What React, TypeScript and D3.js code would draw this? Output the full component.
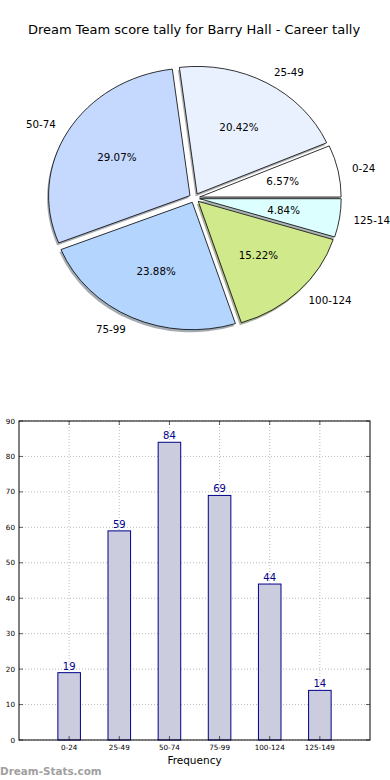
import { useMemo } from "react";
import * as d3 from "d3";

const categories = ["0-24", "25-49", "50-74", "75-99", "100-124", "125-149"];
const counts = [19, 59, 84, 69, 44, 14];
const pieColors = ["#ffffff", "#eaf1fe", "#c5d8fe", "#b4d5fe", "#d0ea8b", "#dcffff"];
const yTicks = [0, 10, 20, 30, 40, 50, 60, 70, 80, 90];

const TITLE = "Dream Team score tally for Barry Hall - Career tally";
const FONT = "DejaVu Sans, sans-serif";

// pie geometry (matplotlib style: starts at 3 o'clock, counterclockwise, slightly squashed)
const PIE = { cx: 194.5, cy: 198, rx: 141.5, ry: 127.5, explode: 0.037 };
// bar chart frame
const BAR = { left: 19, right: 370, top: 421, bottom: 740 };

const Pie = () => {
  const total = d3.sum(counts);
  const arcs = useMemo(
    () =>
      d3
        .pie<number>()
        .sort(null)
        .startAngle(Math.PI / 2)
        .endAngle(Math.PI / 2 - 2 * Math.PI)(counts),
    []
  );
  const arcGen = d3.arc<d3.PieArcDatum<number>>().innerRadius(0).outerRadius(1);

  const slices = arcs.map((a, i) => {
    const mid = (a.startAngle + a.endAngle) / 2;
    const ux = Math.sin(mid);
    const uy = -Math.cos(mid);
    const ox = PIE.cx + PIE.explode * PIE.rx * ux;
    const oy = PIE.cy + PIE.explode * PIE.ry * uy;
    return { a, i, ux, uy, ox, oy };
  });

  return (
    <g>
      {/* shadows */}
      {slices.map(({ a, i, ox, oy }) => (
        <path
          key={"s" + i}
          d={arcGen(a) ?? ""}
          transform={`translate(${ox - 1.5},${oy + 2.5}) scale(${PIE.rx},${PIE.ry})`}
          fill={d3.color(pieColors[i])!.darker(2.5).formatHex()}
          opacity={0.5}
        />
      ))}
      {slices.map(({ a, i, ox, oy }) => (
        <path
          key={"p" + i}
          d={arcGen(a) ?? ""}
          transform={`translate(${ox},${oy}) scale(${PIE.rx},${PIE.ry})`}
          fill={pieColors[i]}
          stroke="#000"
          strokeWidth={0.8}
          vectorEffect="non-scaling-stroke"
        />
      ))}
      {slices.map(({ i, ux, uy, ox, oy }) => (
        <g key={"t" + i} fontFamily={FONT} fontSize={10.3} fill="#000">
          <text
            x={ox + 0.6 * PIE.rx * ux}
            y={oy + 0.6 * PIE.ry * uy}
            textAnchor="middle"
            dominantBaseline="central"
          >
            {((counts[i] / total) * 100).toFixed(2) + "%"}
          </text>
          <text
            x={ox + 1.1 * PIE.rx * ux}
            y={oy + 1.1 * PIE.ry * uy}
            textAnchor={ux < 0 ? "end" : "start"}
            dominantBaseline="central"
          >
            {categories[i]}
          </text>
        </g>
      ))}
    </g>
  );
};

const Bars = () => {
  const xScale = d3.scaleLinear().domain([0, 7]).range([BAR.left, BAR.right]);
  const yScale = d3.scaleLinear().domain([0, 90]).range([BAR.bottom, BAR.top]);
  const barW = xScale(0.45) - xScale(0);
  const grid = { stroke: "#aaa", strokeWidth: 0.8, strokeDasharray: "1,2" };

  return (
    <g fontFamily={FONT}>
      {yTicks.map((t) => (
        <g key={"y" + t}>
          <line x1={BAR.left} x2={BAR.right} y1={yScale(t)} y2={yScale(t)} {...grid} />
          <line x1={BAR.left} x2={BAR.left + 4} y1={yScale(t)} y2={yScale(t)} stroke="#000" strokeWidth={0.6} />
          <line x1={BAR.right - 4} x2={BAR.right} y1={yScale(t)} y2={yScale(t)} stroke="#000" strokeWidth={0.6} />
          <text x={BAR.left - 4} y={yScale(t)} textAnchor="end" dominantBaseline="central" fontSize={7.2} fill="#000">
            {t}
          </text>
        </g>
      ))}
      {categories.map((c, i) => (
        <g key={"x" + c}>
          <line x1={xScale(i + 1)} x2={xScale(i + 1)} y1={BAR.top} y2={BAR.bottom} {...grid} />
        </g>
      ))}
      {counts.map((v, i) => (
        <g key={"b" + i}>
          <rect
            x={xScale(i + 1) - barW / 2}
            y={yScale(v)}
            width={barW}
            height={yScale(0) - yScale(v)}
            fill="#ccccdf"
            stroke="#00008b"
            strokeWidth={1}
          />
          <text x={xScale(i + 1)} y={yScale(v) - 3} textAnchor="middle" fontSize={10} fill="#00008b">
            {v}
          </text>
        </g>
      ))}
      {categories.map((c, i) => (
        <g key={"xt" + c}>
          <line x1={xScale(i + 1)} x2={xScale(i + 1)} y1={BAR.bottom} y2={BAR.bottom - 4} stroke="#000" strokeWidth={0.6} />
          <line x1={xScale(i + 1)} x2={xScale(i + 1)} y1={BAR.top} y2={BAR.top + 4} stroke="#000" strokeWidth={0.6} />
          <text x={xScale(i + 1)} y={BAR.bottom + 10} textAnchor="middle" fontSize={7.2} fill="#000">
            {c}
          </text>
        </g>
      ))}
      <rect
        x={BAR.left}
        y={BAR.top}
        width={BAR.right - BAR.left}
        height={BAR.bottom - BAR.top}
        fill="none"
        stroke="#000"
        strokeWidth={1}
      />
      <text x={(BAR.left + BAR.right) / 2} y={764} textAnchor="middle" fontSize={10.5} fill="#000">
        Frequency
      </text>
    </g>
  );
};

export default function App() {
  return (
    <svg
      width={390}
      height={780}
      style={{ position: "absolute", left: 0, top: 0, background: "#fff" }}
    >
      <rect width={390} height={780} fill="#fff" />
      <text x={194} y={34} textAnchor="middle" fontFamily={FONT} fontSize={13} fill="#000">
        {TITLE}
      </text>
      <Pie />
      <Bars />
      <text x={0} y={775} fontFamily={FONT} fontSize={10.4} fontWeight="bold" fill="#a0a0a0">
        Dream-Stats.com
      </text>
    </svg>
  );
}
